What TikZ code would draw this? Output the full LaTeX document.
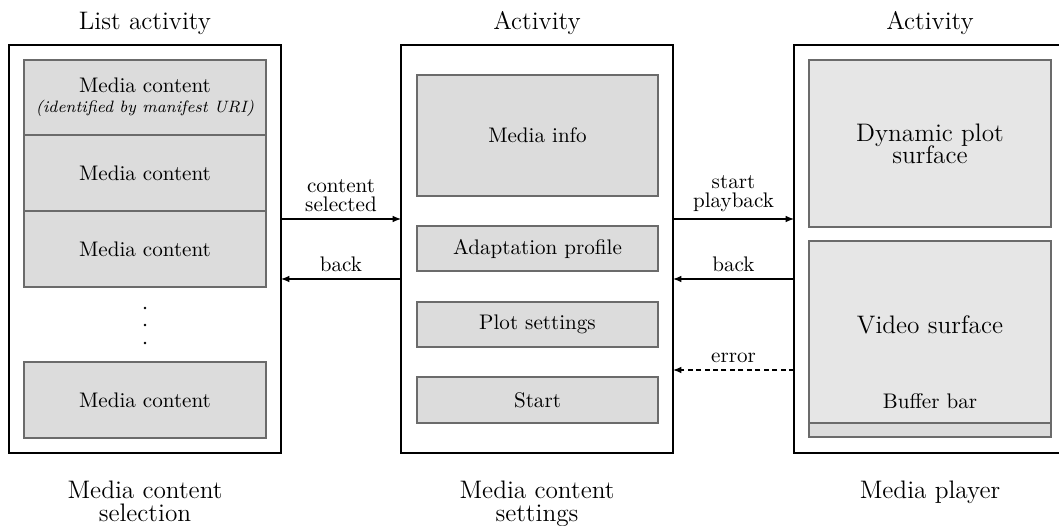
\documentclass[tikz,border=0pt]{standalone}
\usetikzlibrary{arrows.meta,fit}
\definecolor{boxfill}{gray}{0.863}
\definecolor{panelfill}{gray}{0.902}
\definecolor{boxline}{gray}{0.42}
\begin{document}
\begin{tikzpicture}[x=0.474pt,y=-0.474pt,
  frame/.style={draw=black, line width=0.8pt, inner sep=0pt, outer sep=0pt},
  item/.style={draw=boxline, fill=boxfill, line width=0.6pt, inner sep=0pt, outer sep=0pt},
  panel/.style={item, fill=panelfill},
  flow/.style={line width=0.6pt, -{Latex[length=4pt,width=3.2pt]}},
  title/.style={font=\large},
  caption/.style={font=\large, align=center, anchor=north},
  lbl/.style={align=center}]
\clip (0,0) rectangle (1059,526);

% activity frames
\node[frame, fit={(9,45)(281,453)}] (list) {};
\node[frame, fit={(401,45)(673,453)}] (settings) {};
\node[frame, fit={(794,45)(1066,453)}] (player) {};

% frame titles
\node[title] (tlist) at (145,23) {List activity};
\node[title] (tsettings) at (537,23) {Activity};
\node[title] (tplayer) at (930,23) {Activity};

% list of media contents
\node[item, fit={(24,60)(266,135)},
  label={[lbl]center:Media content\\[-2.5pt]{\fontsize{7.8}{9}\selectfont\itshape (identified by manifest URI)}}] (mc1) {};
\node[item, fit={(24,135)(266,211)}, label=center:Media content] (mc2) {};
\node[item, fit={(24,211)(266,287)}, label=center:Media content] (mc3) {};
\fill (145,308) circle (0.65pt) (145,325) circle (0.65pt) (145,343) circle (0.65pt);
\node[item, fit={(24,362)(266,438)}, label=center:Media content] (mc4) {};

% settings entries
\node[item, fit={(417,75)(658,196)}, label=center:Media info] (info) {};
\node[item, fit={(417,226)(658,271)}, label=center:Adaptation profile] (adapt) {};
\node[item, fit={(417,302)(658,347)}, label=center:Plot settings] (plot) {};
\node[item, fit={(417,377)(658,423)}, label=center:Start] (start) {};

% player surfaces
\node[panel, fit={(809,60)(1051,227)},
  label={[lbl, font=\large]center:Dynamic plot\\[-3.5pt]surface}] (dyn) {};
\node[panel, fit={(809,241)(1051,437)}] (video) {};
\node[item, fit={(809,423)(1051,437)}] (buffer) {};
\node[font=\large] (vlabel) at (930,325) {Video surface};
\node (blabel) at (930,401) {Buffer bar};

% transitions
\coordinate (r1) at (0,219);
\coordinate (r2) at (0,279);
\coordinate (r3) at (0,370);
\draw[flow] (list.east |- r1) -- node[above, lbl] {content\\[-3pt]selected} (settings.west |- r1);
\draw[flow] (settings.west |- r2) -- node[above] {back} (list.east |- r2);
\draw[flow] (settings.east |- r1) -- node[above, lbl] {start\\[-3pt]playback} (player.west |- r1);
\draw[flow] (player.west |- r2) -- node[above] {back} (settings.east |- r2);
\draw[flow, dash pattern=on 2.4pt off 1.6pt] (player.west |- r3) -- node[above] {error} (settings.east |- r3);

% captions
\node[caption] (clist) at (145,473) {Media content\\[-3pt]selection};
\node[caption] (csettings) at (537,473) {Media content\\[-3pt]settings};
\node[caption] (cplayer) at (930,473) {Media player};
\end{tikzpicture}
\end{document}
